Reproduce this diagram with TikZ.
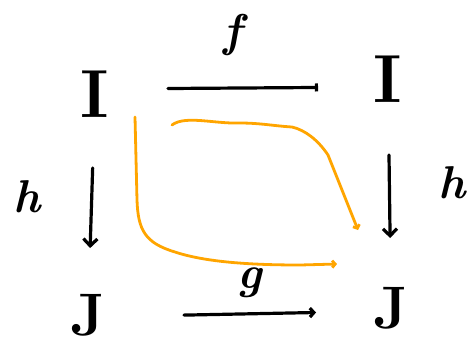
\documentclass[tikz,border=0pt]{standalone}
\usetikzlibrary{arrows.meta}
\definecolor{strokeorange}{RGB}{255,165,0}
\begin{document}
\begin{tikzpicture}[
                x=1pt, y=-1pt,
                obj/.style={inner sep=0pt, font=\fontsize{68}{68}\selectfont\bfseries},
                lowobj/.style={obj, font=\fontsize{60}{60}\selectfont\bfseries},
                lbl/.style={inner sep=0pt, font=\fontsize{46}{46}\selectfont\bfseries\itshape},
                map/.style={line width=3.2pt, line cap=round, -{Straight Barb[length=7pt,width=14pt]}},
                path/.style={strokeorange, line width=2.8pt, line cap=round, line join=round,
                    -{Straight Barb[length=3pt,width=7pt]}}
            ]
            \useasboundingbox (0,0) rectangle (470,346);

            % objects
            \node[obj] (i1) at (95,94) {I};
            \node[obj] (i2) at (388,79) {I};
            \node[lowobj] (j1) at (88,315) {J};
            \node[lowobj] (j2) at (391,308) {J};

            % labels
            \node[lbl] (f) at (233,35) {f};
            \node[lbl] (g) at (250,283) {g};
            \node[lbl] (hl) at (27,197) {h};
            \node[lbl] (hr) at (452,183) {h};

            % maps
            \draw[map, -{Bar[width=8pt]}, shorten <=73pt, shorten >=70pt]
                ([yshift=5pt]i1.center) -- ([yshift=-8pt]i2.center);
            \draw[map, -{Straight Barb[length=4pt,width=9pt]}, shorten <=96pt, shorten >=75pt]
                ([yshift=-2pt]j1.center) -- ([yshift=-3pt]j2.center);
            \draw[map, shorten <=74pt, shorten >=67pt] (i1.center) -- (j1.center);
            \draw[map, shorten <=76pt, shorten >=70pt] (i2.center) -- (j2.center);

            % paths
            \coordinate (s1) at (135,117);
            \coordinate (e1) at (337,264);
            \coordinate (s2) at (172,125);
            \coordinate (e2) at (358,230);
            \draw[path] (s1) -- (137,200) .. controls (138,230) and (145,243) .. (175,252)
                .. controls (205,262) and (250,265) .. (300,265) -- (e1);
            \draw[path] (s2) .. controls (185,115) and (215,124) .. (240,123)
                .. controls (260,123) and (275,126) .. (292,127)
                .. controls (305,130) and (318,140) .. (328,155) -- (e2);

        \end{tikzpicture}
\end{document}
